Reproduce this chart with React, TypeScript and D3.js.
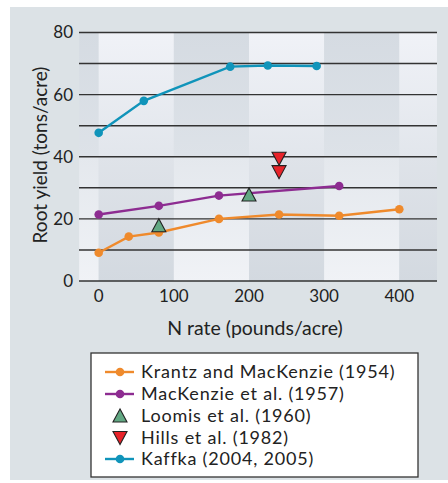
import React from "react";
import * as d3 from "d3";

const krantzX = [0, 40, 80, 160, 240, 320, 400];
const krantzY = [9.1, 14.3, 15.6, 20.0, 21.4, 21.0, 23.1];
const mackX = [0, 80, 160, 320];
const mackY = [21.4, 24.2, 27.5, 30.6];
const loomisX = [80, 200];
const loomisY = [17.8, 27.7];
const hillsX = [240, 240];
const hillsY = [39.5, 35.2];
const kaffkaX = [0, 60, 175, 225, 290];
const kaffkaY = [47.7, 58.0, 69.0, 69.4, 69.2];

const xTicks = [0, 100, 200, 300, 400];
const yTicks = [0, 20, 40, 60, 80];
const gridVals = [0, 10, 20, 30, 40, 50, 60, 70, 80];
const colBounds = [-26, 0, 100, 200, 300, 400, 451];
const rowBounds = [80, 40, 0];

const legendLabels = [
  "Krantz and MacKenzie (1954)",
  "MacKenzie et al. (1957)",
  "Loomis et al. (1960)",
  "Hills et al. (1982)",
  "Kaffka (2004, 2005)",
];

const ORANGE = "#ef8a2c";
const PURPLE = "#8d2c91";
const GREEN = "#62a883";
const RED = "#e8232a";
const BLUE = "#1094ba";
const FONT = "Lato, 'Open Sans', sans-serif";

export default function App() {
  const x = d3.scaleLinear().domain([0, 400]).range([98.7, 399.3]);
  const y = d3.scaleLinear().domain([0, 80]).range([281, 32.5]);
  const xl = 79, xr = 437;

  const line = d3
    .line<[number, number]>()
    .x((d) => x(d[0]))
    .y((d) => y(d[1]));

  const series = [
    { xs: krantzX, ys: krantzY, color: ORANGE },
    { xs: mackX, ys: mackY, color: PURPLE },
    { xs: kaffkaX, ys: kaffkaY, color: BLUE },
  ];

  const tri = (cx: number, cy: number, up: boolean, color: string, key: string) => {
    const h = 12, w = 14;
    const pts = up
      ? `${cx},${cy - h / 2 - 1} ${cx - w / 2},${cy + h / 2} ${cx + w / 2},${cy + h / 2}`
      : `${cx},${cy + h / 2 + 1} ${cx - w / 2},${cy - h / 2} ${cx + w / 2},${cy - h / 2}`;
    return <polygon key={key} points={pts} fill={color} stroke="#222" strokeWidth={1.1} strokeLinejoin="miter" />;
  };

  const cells: JSX.Element[] = [];
  for (let r = 0; r < 2; r++) {
    for (let c = 0; c < colBounds.length - 1; c++) {
      const x0 = Math.max(xl, x(colBounds[c]));
      const x1 = Math.min(xr, x(colBounds[c + 1]));
      const y0 = y(rowBounds[r]);
      const y1 = y(rowBounds[r + 1]);
      const dark = r === 0 ? c % 2 === 0 : c % 2 === 1;
      const id = `${r === 0 ? "t" : "b"}${dark ? "d" : "l"}`;
      cells.push(<rect key={`c${r}-${c}`} x={x0} y={y0} width={x1 - x0} height={y1 - y0} fill={`url(#${id})`} />);
    }
  }

  const legendY = [372, 394, 416, 437.5, 459];

  return (
    <svg width={448} height={483} style={{ position: "absolute", left: 0, top: 0 }}>
      <defs>
        <linearGradient id="tl" x1="0" y1="0" x2="0" y2="1">
          <stop offset="0" stopColor="#f0f2f7" />
          <stop offset="1" stopColor="#e2e6ec" />
        </linearGradient>
        <linearGradient id="td" x1="0" y1="0" x2="0" y2="1">
          <stop offset="0" stopColor="#d5dbe2" />
          <stop offset="1" stopColor="#dde2e8" />
        </linearGradient>
        <linearGradient id="bd" x1="0" y1="0" x2="0" y2="1">
          <stop offset="0" stopColor="#dfe3e9" />
          <stop offset="1" stopColor="#d3d9e0" />
        </linearGradient>
        <linearGradient id="bl" x1="0" y1="0" x2="0" y2="1">
          <stop offset="0" stopColor="#e4e8ed" />
          <stop offset="1" stopColor="#f0f2f6" />
        </linearGradient>
      </defs>
      <rect x={10} y={7} width={438} height={473} fill="#dce2e6" />
      {cells}
      {gridVals.map((v) => (
        <line key={`g${v}`} x1={xl} x2={xr} y1={y(v)} y2={y(v)} stroke="#333" strokeWidth={1.4} />
      ))}
      {yTicks.map((v) => (
        <text key={`yt${v}`} x={73} y={y(v)} dy="0.35em" textAnchor="end" fontFamily={FONT} fontSize={17} fill="#222">
          {v}
        </text>
      ))}
      {xTicks.map((v) => (
        <text key={`xt${v}`} x={x(v)} y={296} dy="0.35em" textAnchor="middle" fontFamily={FONT} fontSize={17} fill="#222">
          {v}
        </text>
      ))}
      <text x={255} y={328} dy="0.35em" textAnchor="middle" fontFamily={FONT} fontSize={19.5} fill="#222">
        N rate (pounds/acre)
      </text>
      <text
        transform="translate(40,155) rotate(-90)"
        dy="0.35em"
        textAnchor="middle"
        fontFamily={FONT}
        fontSize={19}
        fill="#222"
      >
        Root yield (tons/acre)
      </text>
      {series.map((s, i) => (
        <g key={`s${i}`}>
          <path
            d={line(s.xs.map((xv, j) => [xv, s.ys[j]]) as [number, number][]) || ""}
            fill="none"
            stroke={s.color}
            strokeWidth={2.4}
          />
          {s.xs.map((xv, j) => (
            <circle key={j} cx={x(xv)} cy={y(s.ys[j])} r={4.3} fill={s.color} />
          ))}
        </g>
      ))}
      {loomisX.map((xv, j) => tri(x(xv), y(loomisY[j]), true, GREEN, `lo${j}`))}
      {hillsX.map((xv, j) => tri(x(xv), y(hillsY[j]), false, RED, `hi${j}`))}

      <rect x={91} y={353} width={327} height={124} fill="#fff" stroke="#333" strokeWidth={1.3} />
      {legendLabels.map((lab, i) => {
        const cy = legendY[i];
        let sym: JSX.Element;
        if (i === 0 || i === 1 || i === 4) {
          const col = i === 0 ? ORANGE : i === 1 ? PURPLE : BLUE;
          sym = (
            <g>
              <line x1={105} x2={134} y1={cy} y2={cy} stroke={col} strokeWidth={2.4} />
              <circle cx={120} cy={cy} r={4.3} fill={col} />
            </g>
          );
        } else if (i === 2) {
          sym = tri(120, cy, true, GREEN, "lg2");
        } else {
          sym = tri(120, cy, false, RED, "lg3");
        }
        return (
          <g key={`lg${i}`}>
            {sym}
            <text x={141} y={cy} dy="0.35em" fontFamily={FONT} fontSize={18} letterSpacing={0.8} fill="#222">
              {lab}
            </text>
          </g>
        );
      })}
    </svg>
  );
}
